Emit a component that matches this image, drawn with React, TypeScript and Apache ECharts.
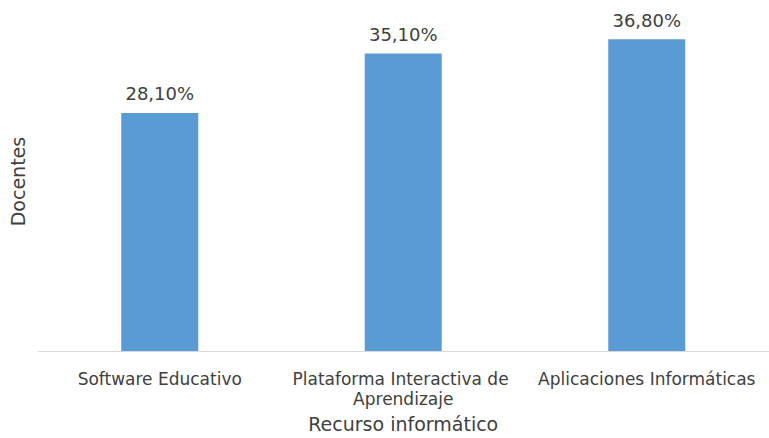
import React, { useEffect, useRef } from "react";
import * as echarts from "echarts";

const categories = ["Software Educativo", "Plataforma Interactiva de Aprendizaje", "Aplicaciones Informáticas"];
const values = [28.1, 35.1, 36.8];
const xAxisTitle = "Recurso informático";
const yAxisTitle = "Docentes";

const FONT = "DejaVu Sans, Verdana, sans-serif";
const TEXT = "#404040";

export default function App() {
  const ref = useRef<HTMLDivElement>(null);
  useEffect(() => {
    const chart = echarts.init(ref.current!, null, { renderer: "svg" });
    chart.setOption({
      animation: false,
      backgroundColor: "#ffffff",
      grid: { left: 33, right: -5, top: 12, bottom: 85, containLabel: false },
      xAxis: {
        type: "category",
        data: categories,
        name: xAxisTitle,
        nameLocation: "middle",
        nameGap: 61,
        nameTextStyle: { fontFamily: FONT, fontSize: 19, color: TEXT },
        axisLine: { lineStyle: { color: "#d9d9d9", width: 1 } },
        axisTick: { show: false },
        axisLabel: {
          interval: 0,
          fontFamily: FONT,
          fontSize: 17,
          color: TEXT,
          margin: 18,
          lineHeight: 20,
          width: 242,
          overflow: "break",
        },
      },
      yAxis: {
        type: "value",
        min: 0,
        max: 40,
        name: yAxisTitle,
        nameLocation: "middle",
        nameGap: 11,
        nameTextStyle: { fontFamily: FONT, fontSize: 19, color: TEXT },
        axisLabel: { show: false },
        axisLine: { show: false },
        axisTick: { show: false },
        splitLine: { show: false },
      },
      series: [
        {
          type: "bar",
          data: values,
          barWidth: 77,
          itemStyle: { color: "#5b9bd5" },
          label: {
            show: true,
            position: "top",
            distance: 10,
            fontFamily: FONT,
            fontSize: 18,
            color: TEXT,
            formatter: (p: any) => p.value.toFixed(2).replace(".", ",") + "%",
          },
        },
      ],
    });
    return () => chart.dispose();
  }, []);
  return (
    <div
      ref={ref}
      style={{ position: "absolute", left: 0, top: 0, width: 769, height: 438 }}
    />
  );
}
